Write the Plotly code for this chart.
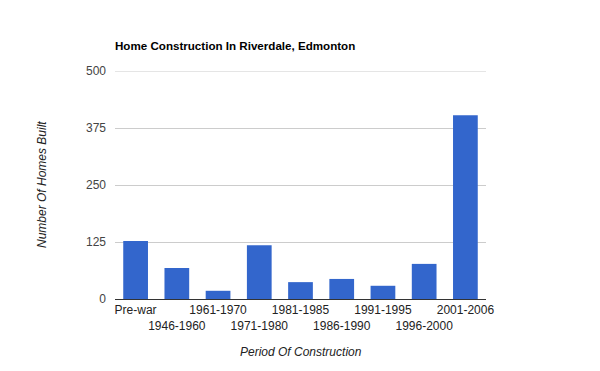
import plotly.graph_objects as go

categories = ["Pre-war", "1946-1960", "1961-1970", "1971-1980", "1981-1985",
              "1986-1990", "1991-1995", "1996-2000", "2001-2006"]
homes_built = [127, 68, 18, 118, 37, 44, 29, 77, 403]
y_ticks = [0, 125, 250, 375, 500]

tick_text = [c if i % 2 == 0 else "<br>" + c for i, c in enumerate(categories)]

# page body has an 8px margin; compensate so the plot lands where the reference has it
OFF = 8
W, H = 600 - OFF, 371 - OFF

fig = go.Figure(go.Bar(x=categories, y=homes_built, marker_color="#3366cc",
                       marker_line_width=0))

font = "Liberation Sans, Arial, sans-serif"
fig.update_layout(
    width=W, height=H,
    margin=dict(l=115 - OFF, r=114, t=71 - OFF, b=72, autoexpand=False),
    paper_bgcolor="white", plot_bgcolor="white",
    bargap=0.4,
    showlegend=False,
    font=dict(family=font, size=12, color="#222222"),
    title=dict(text="<b>Home Construction In Riverdale, Edmonton</b>",
               x=(115 - OFF) / W, xanchor="left", xref="container",
               y=1 - (46 - OFF) / H, yanchor="middle", yref="container",
               font=dict(family=font, size=11.6, color="#000000")),
)
fig.update_xaxes(tickvals=categories, ticktext=tick_text, showgrid=False,
                 showline=True, linecolor="#333333", linewidth=1,
                 ticks="", tickangle=0, automargin=False,
                 tickfont=dict(size=12, color="#222222"))
fig.update_yaxes(range=[0, y_ticks[-1]], tickvals=y_ticks, showgrid=True,
                 gridcolor="#cccccc", gridwidth=1, zeroline=False,
                 ticks="", ticklabelstandoff=8, automargin=False,
                 tickfont=dict(size=12, color="#444444"))
# top gridline (plotly omits gridlines sitting on the plot edge)
fig.add_shape(type="line", xref="paper", yref="y", x0=0, x1=1,
              y0=y_ticks[-1], y1=y_ticks[-1], line=dict(color="#cccccc", width=1),
              layer="below")
fig.add_annotation(text="<i>Number Of Homes Built</i>", xref="paper", yref="paper",
                   x=-73 / 371, y=0.5, textangle=-90, showarrow=False,
                   xanchor="center", yanchor="middle",
                   font=dict(family=font, size=12, color="#222222"))
fig.add_annotation(text="<i>Period Of Construction</i>", xref="paper", yref="paper",
                   x=0.5, y=-53 / 228, showarrow=False,
                   xanchor="center", yanchor="middle",
                   font=dict(family=font, size=12, color="#222222"))
fig.write_html("out.html")
